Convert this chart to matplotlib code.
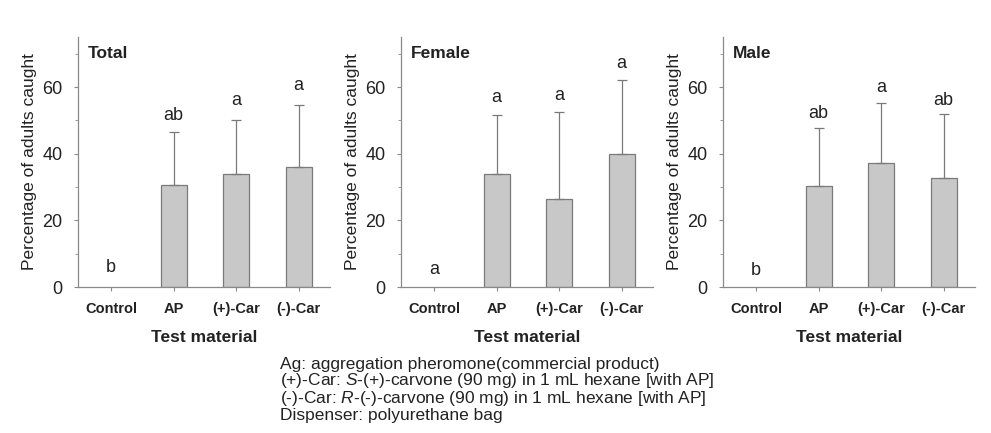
import numpy as np
import matplotlib
matplotlib.use('Agg')
import matplotlib.pyplot as plt
from matplotlib.ticker import MultipleLocator

plt.rcParams['font.family'] = ['Liberation Sans', 'DejaVu Sans']
plt.rcParams['mathtext.fontset'] = 'custom'
plt.rcParams['mathtext.it'] = 'Liberation Sans:italic'
plt.rcParams['mathtext.rm'] = 'Liberation Sans'

traitements = ['Control', 'AP', '(+)-Car', '(-)-Car']

# moyennes, borne haute de l'erreur et lettres de significativité
total_moy = [0, 30.5, 34.0, 36.0]
total_err = [0, 16.0, 16.0, 18.5]
total_lettres = ['b', 'ab', 'a', 'a']
total_y_lettres = [6, 51.5, 56, 60.3]

femelle_moy = [0, 33.8, 26.5, 40.0]
femelle_err = [0, 17.7, 26.0, 22.0]
femelle_lettres = ['a', 'a', 'a', 'a']
femelle_y_lettres = [5.2, 57, 57.5, 67]

male_moy = [0, 30.2, 37.3, 32.8]
male_err = [0, 17.6, 17.9, 19.0]
male_lettres = ['b', 'ab', 'a', 'ab']
male_y_lettres = [5, 52, 60, 56]

panneaux = [
    ('Total', total_moy, total_err, total_lettres, total_y_lettres),
    ('Female', femelle_moy, femelle_err, femelle_lettres, femelle_y_lettres),
    ('Male', male_moy, male_err, male_lettres, male_y_lettres),
]

gris_axe = '#8a8a8a'
texte = '#222222'

fig = plt.figure(figsize=(9.91, 4.33), dpi=100)
lefts = [78, 401, 723]

for i, (titre, moy, err, lettres, y_lettres) in enumerate(panneaux):
    ax = fig.add_axes([lefts[i] / 991, 146 / 433, 252 / 991, 250 / 433])
    x = np.arange(len(traitements))
    # pas de barre ni d'erreur visible quand la valeur est nulle (témoin)
    moy_aff = np.array([m if m > 0 else np.nan for m in moy])
    err_aff = np.array([e if m > 0 else np.nan for m, e in zip(moy, err)])
    ax.bar(x, moy_aff, width=0.42, color='#c8c8c8', edgecolor='#7a7a7a', linewidth=0.9)
    ax.errorbar(x, moy_aff, yerr=[np.zeros(len(x)), err_aff], fmt='none', ecolor='#7a7a7a',
                elinewidth=0.9, capsize=3.5, capthick=0.9)
    for xi, lettre, yl in zip(x, lettres, y_lettres):
        ax.text(xi, yl, lettre, ha='center', va='center', fontsize=13, color=texte)
    ax.text(0.04, 70, titre, fontsize=12.5, fontweight='bold', color=texte, va='center',
            transform=ax.get_yaxis_transform())
    ax.set_xlim(-0.53, 3.5)
    ax.set_ylim(0, 75)
    ax.yaxis.set_major_locator(MultipleLocator(20))
    ax.yaxis.set_minor_locator(MultipleLocator(10))
    ax.set_xticks(x)
    ax.set_xticklabels(traitements, fontweight='bold', fontsize=10.5, color=texte)
    ax.tick_params(axis='y', labelsize=13, colors=gris_axe, labelcolor=texte, length=3, pad=8)
    ax.tick_params(axis='y', which='minor', colors=gris_axe, length=2)
    ax.tick_params(axis='x', colors=gris_axe, labelcolor=texte, length=3, pad=8)
    for s in ['top', 'right']:
        ax.spines[s].set_visible(False)
    for s in ['left', 'bottom']:
        ax.spines[s].set_color(gris_axe)
        ax.spines[s].set_linewidth(0.9)
    ax.set_ylabel('Percentage of adults caught', fontsize=12.5, color=texte, labelpad=4)
    ax.set_xlabel('Test material', fontsize=12.5, fontweight='bold', color=texte, labelpad=10)

notes = [
    'Ag: aggregation pheromone(commercial product)',
    '(+)-Car: $\\mathit{S}$-(+)-carvone (90 mg) in 1 mL hexane [with AP]',
    '(-)-Car: $\\mathit{R}$-(-)-carvone (90 mg) in 1 mL hexane [with AP]',
    'Dispenser: polyurethane bag',
]
fig.text(280 / 991, 1 - 357 / 433, '\n'.join(notes), fontsize=12.5, color=texte,
         va='top', linespacing=0.94)

fig.savefig('out.png', dpi=100)
